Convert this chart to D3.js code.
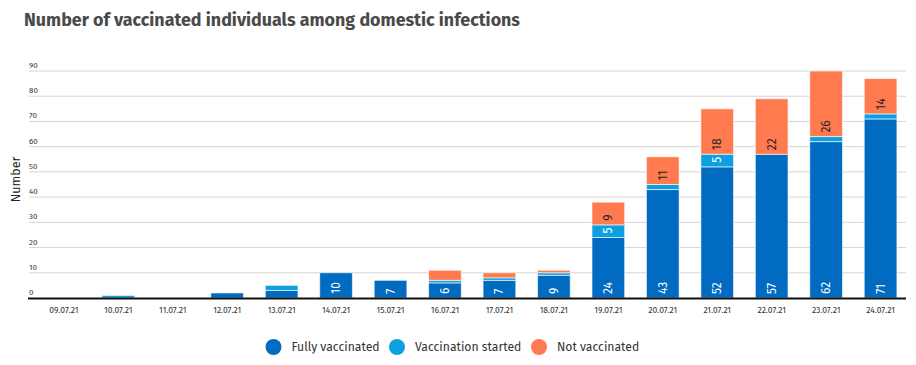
<!DOCTYPE html>
<html>
<head>
<meta charset="utf-8">
<script src="https://cdn.jsdelivr.net/npm/d3@7"></script>
<style>
  body { margin: 0; background: #fff; }
  svg { display: block; font-family: "Fira Sans", "Open Sans", "Noto Sans", sans-serif; }
</style>
</head>
<body>
<div id="chart"></div>
<script>
var dates = ["09.07.21", "10.07.21", "11.07.21", "12.07.21", "13.07.21", "14.07.21", "15.07.21", "16.07.21",
    "17.07.21", "18.07.21", "19.07.21", "20.07.21", "21.07.21", "22.07.21", "23.07.21", "24.07.21"];
var fullyVaccinated = [0, 0, 0, 2, 3, 10, 7, 6, 7, 9, 24, 43, 52, 57, 62, 71];
var vaccinationStarted = [0, 1, 0, 0, 2, 0, 0, 1, 1, 1, 5, 2, 5, 0, 2, 2];
var notVaccinated = [0, 0, 0, 0, 0, 0, 0, 4, 2, 1, 9, 11, 18, 22, 26, 14];
var seriesNames = ["Fully vaccinated", "Vaccination started", "Not vaccinated"];
var yTicks = [0, 10, 20, 30, 40, 50, 60, 70, 80, 90];

var colors = ["#006bc1", "#0ca0e1", "#ff7b4f"];
var labelColors = ["#ffffff", "#ffffff", "#222222"];

var width = 916, height = 365;
var svg = d3.select("#chart").append("svg")
    .attr("width", width)
    .attr("height", height);

// title
svg.append("text")
    .attr("x", 24)
    .attr("y", 26)
    .attr("font-size", "18px")
    .attr("font-weight", "bold")
    .attr("fill", "#4a4a4a")
    .attr("textLength", 496)
    .attr("lengthAdjust", "spacingAndGlyphs")
    .text("Number of vaccinated individuals among domestic infections");

var x = d3.scaleBand()
    .domain(dates)
    .range([36.6, 907.8])
    .paddingInner(0.4)
    .paddingOuter(0.2);

var y = d3.scaleLinear()
    .domain([0, 90])
    .range([298, 71]);

// grid
var grid = svg.append("g");
grid.selectAll("line")
    .data(yTicks.filter(function(d) { return d > 0; }))
    .enter().append("line")
    .attr("x1", 29).attr("x2", 906)
    .attr("y1", function(d) { return y(d); })
    .attr("y2", function(d) { return y(d); })
    .attr("stroke", "#d6d6d6")
    .attr("stroke-width", 1);

grid.selectAll("text")
    .data(yTicks)
    .enter().append("text")
    .attr("x", 29)
    .attr("y", function(d) { return y(d) - 3; })
    .attr("font-size", "8px")
    .attr("fill", "#333")
    .text(function(d) { return d; });

// y axis title
svg.append("text")
    .attr("transform", "translate(20," + y(47) + ") rotate(-90)")
    .attr("text-anchor", "middle")
    .attr("font-size", "12.5px")
    .attr("fill", "#222")
    .text("Number");

// stacked bars
var table = dates.map(function(d, i) {
    return { date: d, s0: fullyVaccinated[i], s1: vaccinationStarted[i], s2: notVaccinated[i] };
});
var stack = d3.stack().keys(["s0", "s1", "s2"]);
var layers = stack(table);

var groups = svg.selectAll(".layer")
    .data(layers)
    .enter().append("g")
    .attr("class", "layer")
    .attr("fill", function(d, i) { return colors[i]; });

groups.selectAll("rect")
    .data(function(d) { return d.filter(function(p) { return p[1] - p[0] > 0; }); })
    .enter().append("rect")
    .attr("x", function(d) { return x(d.data.date); })
    .attr("width", x.bandwidth())
    .attr("y", function(d) { return y(d[1]); })
    .attr("height", function(d) { return y(d[0]) - y(d[1]); })
    .attr("stroke", "rgba(255,255,255,0.6)")
    .attr("stroke-width", 1);

// value labels, rotated, anchored at the base of each segment
layers.forEach(function(layer, i) {
    svg.append("g").selectAll("text")
        .data(layer.filter(function(p) { return p[1] - p[0] >= 5; }))
        .enter().append("text")
        .attr("transform", function(d) {
            var cx = x(d.data.date) + x.bandwidth() / 2 + 4;
            return "translate(" + cx + "," + (y(d[0]) - 4) + ") rotate(-90)";
        })
        .attr("font-size", "12px")
        .attr("fill", labelColors[i])
        .text(function(d) { return d[1] - d[0]; });
});

// baseline
svg.append("line")
    .attr("x1", 28).attr("x2", 906)
    .attr("y1", 298.5).attr("y2", 298.5)
    .attr("stroke", "#111")
    .attr("stroke-width", 2);

// x labels
svg.append("g").selectAll("text")
    .data(dates)
    .enter().append("text")
    .attr("x", function(d) { return x(d) + x.bandwidth() / 2; })
    .attr("y", 313)
    .attr("text-anchor", "middle")
    .attr("font-size", "8.5px")
    .attr("fill", "#333")
    .text(function(d) { return d; });

// legend
var legendX = [273.5, 397, 539];
var legend = svg.append("g").selectAll("g")
    .data(seriesNames)
    .enter().append("g")
    .attr("transform", function(d, i) { return "translate(" + legendX[i] + ",347)"; });
legend.append("circle")
    .attr("r", 8)
    .attr("fill", function(d, i) { return colors[i]; });
legend.append("text")
    .attr("x", 18)
    .attr("y", 4.3)
    .attr("font-size", "12.2px")
    .attr("fill", "#333")
    .text(function(d) { return d; });
</script>
</body>
</html>
